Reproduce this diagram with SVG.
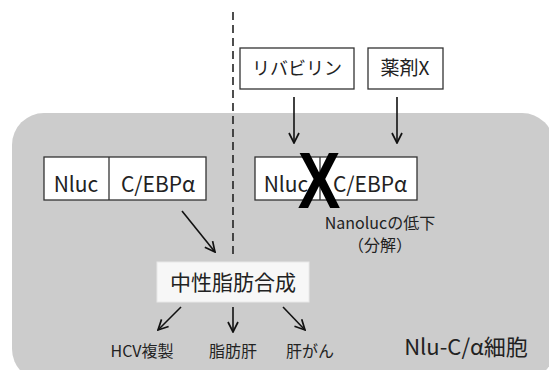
<svg xmlns="http://www.w3.org/2000/svg" width="549" height="370" viewBox="0 0 549 370">
<style>
text{font-family:"Noto Sans CJK JP","Liberation Sans",sans-serif;fill:#222;text-anchor:middle;}
.box{fill:#fff;stroke:#333;stroke-width:1.3;}
.conn{stroke:#111;stroke-width:1.6;fill:none;marker-end:url(#ah);}
.t18{font-size:18px;}
.t19{font-size:19px;}
.t21{font-size:21px;}
.t16{font-size:16px;}
</style>
<defs>
<marker id="ah" viewBox="0 0 12 12" refX="11" refY="6" markerWidth="12" markerHeight="12" markerUnits="userSpaceOnUse" orient="auto">
<path d="M1,1 L11,6 L1,11" fill="none" stroke="#111" stroke-width="1.7"/>
</marker>
</defs>
<rect id="cell" x="12" y="113" width="542" height="268" rx="32" fill="#cccccc"/>
<line x1="233" y1="12" x2="233" y2="255" stroke="#222" stroke-width="1.6" stroke-dasharray="8,5"/>
<g id="ribavirin"><rect class="box" x="240" y="48" width="114" height="41"/><text class="t18" x="297" y="75">リバビリン</text></g>
<g id="drugX"><rect class="box" x="368" y="48" width="75" height="41"/><text class="t19" x="405" y="75">薬剤X</text></g>
<g id="nluc-left"><rect class="box" x="44" y="157" width="162" height="43"/><line x1="109" y1="157" x2="109" y2="200" stroke="#333" stroke-width="1.3"/><text class="t21" x="76" y="192">Nluc</text><text class="t21" x="158" y="192">C/EBPα</text></g>
<g id="nluc-right"><rect class="box" x="255" y="157" width="162" height="43"/><line x1="320" y1="157" x2="320" y2="200" stroke="#333" stroke-width="1.3"/><text class="t21" x="286" y="192">Nluc</text><text class="t21" x="370" y="192">C/EBPα</text><text transform="translate(319,208) scale(0.8,1)" x="0" y="0" style="font-family:'Liberation Sans',sans-serif;font-size:80px;font-weight:bold;fill:#000">X</text></g>
<g id="nanoluc-label"><text class="t16" x="380" y="229">Nanolucの低下</text><text class="t16" x="380" y="251">（分解）</text></g>
<g id="tg"><rect x="157" y="262" width="152" height="40" fill="#f7f7f7" stroke="#e8e8e8"/><text x="233" y="290" style="font-size:21px">中性脂肪合成</text></g>
<g id="hcv"><text class="t16" x="142" y="357">HCV複製</text></g>
<g id="fattyliver"><text class="t16" x="233" y="357">脂肪肝</text></g>
<g id="cancer"><text class="t16" x="310" y="357">肝がん</text></g>
<g id="cell-label"><text x="466" y="355" style="font-size:22px">Nlu-C/α細胞</text></g>
<g id="connectors">
<line class="conn" x1="294" y1="97" x2="294" y2="143"/>
<line class="conn" x1="397" y1="97" x2="397" y2="143"/>
<line class="conn" x1="182" y1="211" x2="215" y2="252"/>
<line class="conn" x1="181" y1="307" x2="158" y2="330"/>
<line class="conn" x1="233" y1="307" x2="233" y2="332"/>
<line class="conn" x1="283" y1="307" x2="305" y2="330"/>
</g>
</svg>
